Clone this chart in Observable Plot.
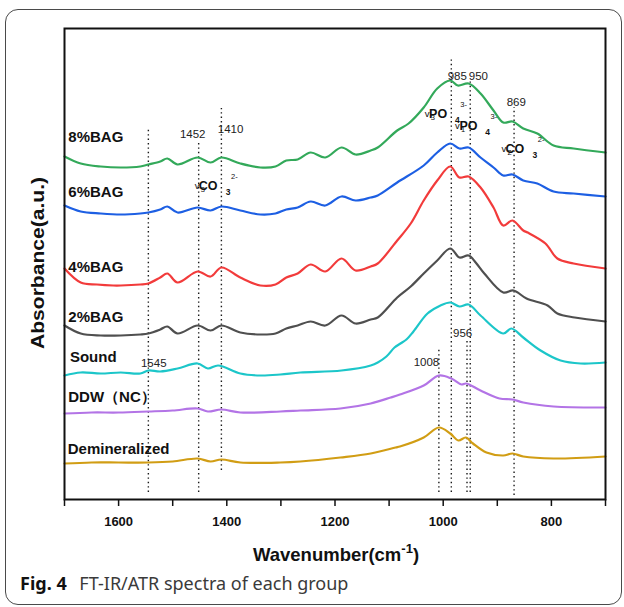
<!DOCTYPE html>
<html><head><meta charset="utf-8">
<script src="https://cdn.jsdelivr.net/npm/d3@7"></script>
<script src="https://cdn.jsdelivr.net/npm/@observablehq/plot@0.6"></script>
<style>
body{margin:0;background:#fff;}
#wrap{position:relative;width:624px;height:607px;overflow:hidden;background:#fff;}
#box{position:absolute;left:5px;top:9px;width:617px;height:596px;border:1.3px solid #4a4a4a;border-radius:13px;box-sizing:border-box;pointer-events:none;}
#chart{position:absolute;left:0;top:0;}
#cap{position:absolute;left:20px;top:571px;font-family:"Noto Sans","Open Sans",sans-serif;font-size:18px;color:#3a3a3a;white-space:nowrap;}
#cap b{color:#111;margin-right:8px;}
</style></head>
<body><div id="wrap"><div id="chart"></div><div id="box"></div><div id="cap"><b>Fig. 4</b> FT-IR/ATR spectra of each group</div></div>
<script>
// ---- data: [wavenumber (cm-1), absorbance (a.u., stacked offsets)] ----
const bag8 = [[1700,3.47],[1670,3.40],[1633,3.37],[1596,3.36],[1560,3.37],[1545,3.39],[1523,3.42],[1510,3.45],[1491,3.39],[1454,3.46],[1430,3.41],[1410,3.46],[1375,3.40],[1338,3.36],[1310,3.37],[1290,3.43],[1269,3.44],[1245,3.51],[1218,3.46],[1188,3.56],[1162,3.49],[1134,3.53],[1121,3.56],[1085,3.73],[1064,3.80],[1036,3.96],[1011,4.15],[987,4.23],[973,4.18],[953,4.20],[931,4.10],[907,3.93],[889,3.81],[872,3.82],[852,3.75],[826,3.70],[796,3.58],[759,3.55],[700,3.51]];
const bag6 = [[1700,2.98],[1670,2.92],[1633,2.90],[1596,2.89],[1560,2.90],[1545,2.91],[1523,2.94],[1510,2.97],[1491,2.91],[1454,2.96],[1430,2.93],[1410,2.97],[1375,2.93],[1338,2.89],[1310,2.90],[1290,2.94],[1269,2.96],[1245,3.02],[1218,2.98],[1188,3.07],[1162,3.03],[1134,3.06],[1121,3.08],[1085,3.21],[1036,3.38],[1011,3.51],[987,3.60],[970,3.55],[953,3.56],[931,3.46],[907,3.36],[889,3.28],[872,3.29],[852,3.23],[826,3.20],[796,3.12],[759,3.10],[700,3.07]];
const bag4 = [[1700,2.35],[1670,2.21],[1640,2.19],[1610,2.18],[1596,2.18],[1560,2.19],[1545,2.20],[1523,2.26],[1510,2.30],[1491,2.21],[1454,2.32],[1430,2.27],[1410,2.36],[1375,2.26],[1338,2.18],[1310,2.19],[1290,2.26],[1269,2.30],[1245,2.39],[1218,2.32],[1188,2.45],[1162,2.33],[1134,2.37],[1121,2.40],[1085,2.63],[1060,2.80],[1036,3.03],[1011,3.23],[987,3.37],[970,3.26],[953,3.27],[931,3.16],[907,2.96],[889,2.78],[872,2.83],[852,2.73],[844,2.71],[811,2.60],[789,2.45],[759,2.40],[700,2.35]];
const bag2 = [[1700,1.78],[1670,1.70],[1633,1.68],[1596,1.68],[1560,1.69],[1545,1.70],[1523,1.74],[1510,1.77],[1491,1.70],[1454,1.78],[1430,1.73],[1410,1.78],[1375,1.71],[1338,1.69],[1310,1.70],[1290,1.75],[1269,1.78],[1245,1.82],[1218,1.78],[1188,1.88],[1162,1.80],[1134,1.84],[1121,1.86],[1085,2.06],[1060,2.17],[1036,2.30],[1011,2.43],[987,2.55],[970,2.46],[953,2.48],[940,2.41],[924,2.30],[889,2.11],[870,2.13],[846,2.05],[807,1.98],[789,1.90],[757,1.86],[700,1.82]];
const sound = [[1700,1.28],[1670,1.31],[1633,1.30],[1596,1.31],[1560,1.30],[1545,1.33],[1523,1.32],[1491,1.35],[1454,1.40],[1435,1.35],[1416,1.38],[1375,1.30],[1338,1.28],[1301,1.29],[1264,1.31],[1188,1.33],[1134,1.38],[1121,1.41],[1105,1.47],[1090,1.56],[1079,1.60],[1068,1.64],[1055,1.72],[1029,1.90],[1005,1.98],[987,2.01],[970,1.97],[953,1.99],[931,1.88],[889,1.70],[874,1.75],[852,1.66],[820,1.53],[783,1.43],[746,1.40],[700,1.41]];
const ddw = [[1700,0.90],[1650,0.91],[1600,0.91],[1545,0.92],[1500,0.93],[1454,0.95],[1435,0.92],[1410,0.94],[1375,0.91],[1301,0.92],[1264,0.93],[1190,0.95],[1134,1.00],[1097,1.06],[1080,1.09],[1036,1.18],[1008,1.28],[985,1.25],[966,1.19],[958,1.20],[931,1.13],[896,1.05],[872,1.04],[852,1.01],[796,0.97],[700,0.96]];
const demin = [[1700,0.40],[1650,0.41],[1600,0.41],[1545,0.41],[1500,0.42],[1454,0.45],[1430,0.42],[1410,0.44],[1375,0.41],[1301,0.41],[1264,0.42],[1190,0.46],[1134,0.50],[1088,0.56],[1080,0.57],[1036,0.66],[1008,0.76],[987,0.70],[972,0.63],[958,0.66],[945,0.60],[920,0.51],[889,0.48],[872,0.50],[852,0.47],[796,0.45],[700,0.47]];

const names = ["8%BAG","6%BAG","4%BAG","2%BAG","Sound","DDW（NC）","Demineralized"];
const colors = ["#33a95a","#1d5fe3","#f23b3b","#4f4f4f","#1cc6c9","#b374e6","#d19d14"];
const seriesData = [bag8, bag6, bag4, bag2, sound, ddw, demin];
const labelW = [1693,1693,1693,1693,1690,1693,1694];
const labelA = [3.66,3.11,2.36,1.86,1.46,1.06,0.54];

// dotted guide lines
const guideW = [1545,1452,1410,1008,985,956,950,869];
const guideTop = [3.75,3.61,3.95,1.56,4.46,1.63,4.23,3.96];
const guideBottom = [0.11,0.11,0.33,0.11,0.11,0.11,0.11,0.08];

// peak numbers
const peakText = ["985","950","869","1452","1410","1545","1008","956"];
const peakW = [974,935,865,1463,1393,1535,1031,964];
const peakA = [4.27,4.27,4.01,3.69,3.74,1.40,1.41,1.70];

// band assignments
const chemW = [1029,973,1454,887];
const chemA = [3.90,3.78,3.18,3.55];
const chemMode = ["3","1","3","2"];
const chemMain = ["PO","PO","CO","CO"];
const chemSub = ["4","4","3","3"];
const chemSup = ["3-","3-","2-","2-"];

// x ticks
const xTicks = [700,800,900,1000,1100,1200,1300,1400,1500,1600,1700];
const xTickLabels = [800,1000,1200,1400,1600];

const rows = seriesData.flatMap((s, i) => s.map(([w, a]) => ({name: names[i], w, a})));
const labels = names.map((n, i) => ({n, w: labelW[i], a: labelA[i]}));
const guides = guideW.map((w, i) => ({w, top: guideTop[i], bot: guideBottom[i]}));
const peaks = peakText.map((t, i) => ({t, w: peakW[i], a: peakA[i]}));

const FONT = "'Liberation Sans', Arial, Helvetica, sans-serif";

const plot = Plot.plot({
  width: 624, height: 570,
  marginLeft: 64, marginRight: 19, marginTop: 28, marginBottom: 71,
  style: {fontFamily: FONT, background: "transparent", color: "#111"},
  x: {domain: [1700, 700]},
  y: {domain: [0.04, 4.75], axis: null},
  color: {domain: names, range: colors},
  marks: [
    Plot.ruleX(guides, {x: "w", y1: "bot", y2: "top", stroke: "#1a1a1a", strokeWidth: 1.4, strokeDasharray: "1.4,3"}),
    Plot.line(rows, {x: "w", y: "a", z: "name", stroke: "name", strokeWidth: 2.2, curve: "catmull-rom"}),
    Plot.axisX({ticks: xTicks, tickSize: 7, tickPadding: 10, strokeWidth: 1.5, fontSize: 13, fontWeight: "bold",
      tickFormat: d => xTickLabels.includes(d) ? String(d) : "", label: null}),
    Plot.frame({stroke: "#111", strokeWidth: 2}),
    Plot.text(labels, {x: "w", y: "a", text: "n", textAnchor: "start", fontSize: 15, fontWeight: "bold", fill: "#111"}),
    Plot.text(peaks, {x: "w", y: "a", text: "t", fontSize: 11.5, fill: "#222"})
  ]
});

document.getElementById("chart").appendChild(plot);

const svg = d3.select(plot);
const sx = plot.scale("x"), sy = plot.scale("y");

// band assignment labels: v(mode) + bold ion + subscript + superscript charge
chemW.forEach((w, i) => {
  let x = sx.apply(w);
  const y = sy.apply(chemA[i]);
  const g = svg.append("g").attr("font-family", FONT).attr("fill", "#111");
  const pieces = [
    ["v", 9.5, "normal", 3.5, 0],
    [chemMode[i], 7.5, "normal", 6.5, 1.0],
    [chemMain[i], 12.5, "bold", 4.5, 1.2],
    [chemSub[i], 8.5, "bold", 10, 1.2],
    [chemSup[i], 7.5, "normal", -6.5, 1.5]
  ];
  pieces.forEach(([txt, fs, fw, dy, gap]) => {
    x += gap;
    const t = g.append("text").attr("x", x).attr("y", y + dy)
      .attr("font-size", fs).attr("font-weight", fw).text(txt);
    x += t.node().getComputedTextLength();
  });
});

// x axis title with superscript
const xl = svg.append("text").attr("x", 336).attr("y", 561).attr("text-anchor", "middle")
  .attr("font-family", FONT).attr("font-weight", "bold").attr("font-size", 18.5).attr("fill", "#111");
xl.append("tspan").text("Wavenumber(cm");
xl.append("tspan").attr("font-size", 13).attr("dy", -8).text("-1");
xl.append("tspan").attr("dy", 8).text(")");

// y axis title
svg.append("text").attr("transform", "translate(44,263) rotate(-90)").attr("text-anchor", "middle")
  .attr("font-family", FONT).attr("font-weight", "bold").attr("font-size", 18.5).attr("fill", "#111")
  .attr("textLength", 172).attr("lengthAdjust", "spacingAndGlyphs")
  .text("Absorbance(a.u.)");
</script>
</body></html>
